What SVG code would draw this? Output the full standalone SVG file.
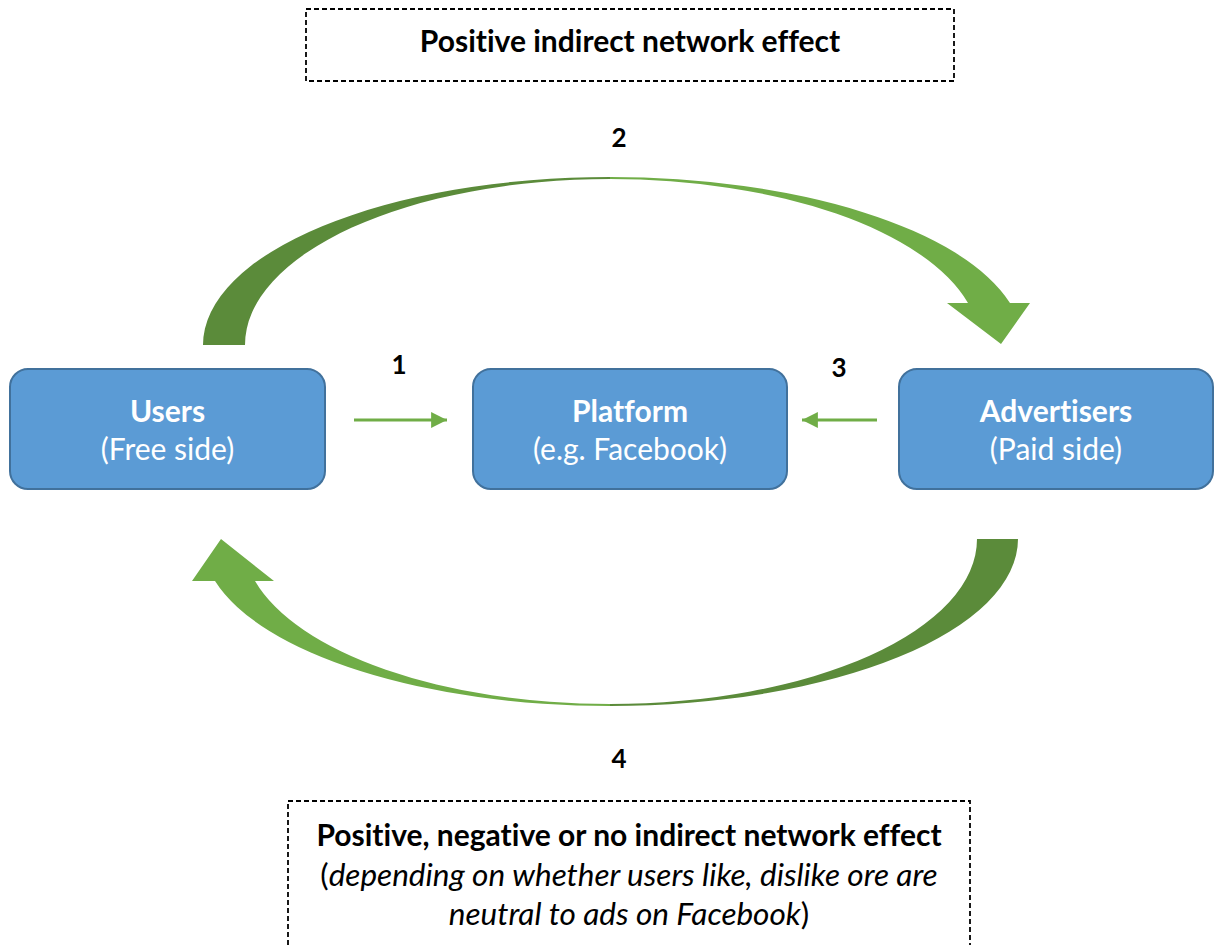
<svg xmlns="http://www.w3.org/2000/svg" width="1215" height="945" viewBox="0 0 1215 945">
<style>
text{font-variant-ligatures:none}
.node{fill:#5B9BD5;stroke:#41719C;stroke-width:2}
.t{font-family:Lato,"Liberation Sans",sans-serif;fill:#fff;text-anchor:middle;font-size:30px}
.b{font-weight:bold}
.lbl{font-family:Lato,"Liberation Sans",sans-serif;font-weight:bold;font-size:26px;fill:#000;text-anchor:middle}
.box{fill:none;stroke:#000;stroke-width:1.8;stroke-dasharray:5 3}
.bt{font-family:Lato,"Liberation Sans",sans-serif;font-size:30px;fill:#000;text-anchor:middle}
.it{font-size:31.5px}
.dark{fill:#5B8B3A}
.light{fill:#70AD47}
.sm{stroke:#70AD47;stroke-width:3;fill:none}
</style>
<defs>
<marker id="ah" viewBox="0 0 10 10" refX="10" refY="5" markerWidth="5.3" markerHeight="5.3" markerUnits="strokeWidth" orient="auto">
<path d="M0,0 L10,5 L0,10 Z" fill="#70AD47"/>
</marker>
</defs>
<g id="connectors">
<path class="dark" d="M203,345 A407,168 0 0 1 610,177 L610,179 A365,166 0 0 0 245,345 Z"/>
<path class="light" d="M610,177 A413,168 0 0 1 1010,303 L1030,303 L1001,344 L947,303 L968,303 A370,166 0 0 0 610,179 Z"/>
<path class="dark" d="M1018,539 A408,167 0 0 1 610,706 L610,704 A367,165 0 0 0 977,539 Z"/>
<path class="light" d="M610,706 A408,167 0 0 1 215,581 L192,581 L221,539 L274,581 L255,581 A367,165 0 0 0 610,704 Z"/>
<line class="sm" x1="354" y1="420" x2="447" y2="420" marker-end="url(#ah)"/>
<line class="sm" x1="877" y1="420" x2="802" y2="420" marker-end="url(#ah)"/>
<text class="lbl" x="399" y="374">1</text>
<text class="lbl" x="619" y="147">2</text>
<text class="lbl" x="839" y="377">3</text>
<text class="lbl" x="619" y="768">4</text>
</g>
<g id="top-note">
<rect class="box" x="306" y="9" width="648" height="72"/>
<text class="bt b" x="630" y="52">Positive indirect network effect</text>
</g>
<g id="users">
<rect class="node" x="10" y="369" width="315" height="120" rx="18"/>
<text class="t b" x="167.5" y="422">Users</text>
<text class="t" x="167.5" y="460">(Free side)</text>
</g>
<g id="platform">
<rect class="node" x="473" y="369" width="314" height="120" rx="18"/>
<text class="t b" x="630" y="422">Platform</text>
<text class="t" x="630" y="460">(e.g. Facebook)</text>
</g>
<g id="advertisers">
<rect class="node" x="899" y="369" width="314" height="120" rx="18"/>
<text class="t b" x="1056" y="422">Advertisers</text>
<text class="t" x="1056" y="460">(Paid side)</text>
</g>
<g id="bottom-note">
<rect class="box" x="288" y="801" width="682" height="170"/>
<text class="bt b" x="629" y="846">Positive, negative or no indirect network effect</text>
<text class="bt it" x="629" y="886">(<tspan font-style="italic">depending on whether users like, dislike ore are</tspan></text>
<text class="bt it" x="629" y="925"><tspan font-style="italic">neutral to ads on Facebook</tspan>)</text>
</g>
</svg>
